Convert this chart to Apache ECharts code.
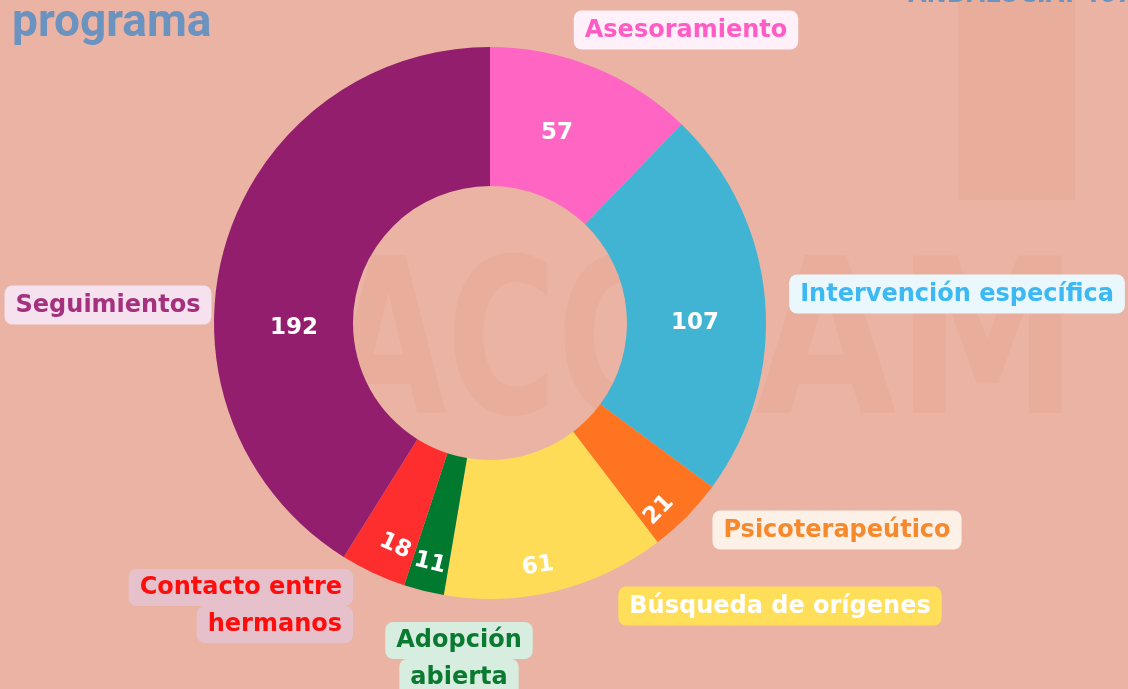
<!DOCTYPE html>
<html>
<head>
<meta charset="utf-8">
<script src="https://cdn.jsdelivr.net/npm/echarts@6/dist/echarts.min.js"></script>
<style>
  html, body { margin: 0; padding: 0; background: #eab3a3; }
  #pie-chart { width: 1128px; height: 689px; }
</style>
</head>
<body>
<div id="pie-chart"></div>
<script>
// datos por programa (Andalucía)
const categories = ['Asesoramiento', 'Intervención específica', 'Psicoterapeútico', 'Búsqueda de orígenes', 'Adopción abierta', 'Contacto entre hermanos', 'Seguimientos'];
const values = [57, 107, 21, 61, 11, 18, 192];
const labelLines = [['Asesoramiento'], ['Intervención específica'], ['Psicoterapeútico'], ['Búsqueda de orígenes'], ['Adopción', 'abierta'], ['Contacto entre', 'hermanos'], ['Seguimientos']];
const total = values.reduce((a, b) => a + b, 0);

// estilos
const sliceColors = ['#ff66c4', '#42b4d3', '#ff7420', '#ffdc58', '#017a30', '#ff2e2e', '#921e6d'];
const nameColors = ['#ff5cc6', '#3cb9f2', '#f7892d', '#ffffff', '#0b7a31', '#ff0d0d', '#a4307e'];
const nameBgs = ['#fff0fa', '#eaf7fd', '#fcf0e7', '#ffde5a', '#d6ede0', '#e6c1cb', '#f5e2ee'];
// posición de las etiquetas [x, y, align]
const namePos = [[686, 30, 'center'], [957, 294, 'center'], [837, 530, 'center'], [780, 606, 'center'], [459, 659, 'center'], [353, 606, 'right'], [108, 305, 'center']];
const valuePos = [[557, 133], [695, 323], [659, 510], [538, 566], [430, 563], [395, 546], [294, 328]];
const valueRotate = [0, 0, 'tangential', 8, 'tangential', 'tangential', 0];

const FONT = '"DejaVu Sans", sans-serif';
const CENTER = [490, 323];
const RADIUS = [137, 276];

const chart = echarts.init(document.getElementById('pie-chart'));

const sliceData = categories.map((name, i) => ({
  name: name,
  value: values[i],
  itemStyle: { color: sliceColors[i] },
  label: { rotate: valueRotate[i] },
}));

const nameData = categories.map((name, i) => {
  const twoLines = labelLines[i].length > 1;
  return {
    name: name,
    value: values[i],
    label: {
      formatter: labelLines[i].map((l) => '{t|' + l + '}').join('\n'),
      rich: {
        t: {
          color: nameColors[i],
          backgroundColor: nameBgs[i],
          borderRadius: 8,
          padding: twoLines ? [7, 11, 6, 11] : [8, 11, 7, 11],
          fontSize: 24,
          fontWeight: 'bold',
          fontFamily: FONT,
        },
      },
    },
  };
});

const option = {
  backgroundColor: '#eab3a3',
  animation: false,
  graphic: [
    // marca de agua
    {
      type: 'rect', z: -10, silent: true,
      shape: { x: 958, y: 0, width: 117, height: 200 },
      style: { fill: '#e9ad9b' },
    },
    {
      type: 'text', z: -10, silent: true, x: 330, y: 357, scaleX: 0.7,
      style: { text: 'ACC', font: 'bold 215px "DejaVu Sans"', fill: '#e9ad9b', textVerticalAlign: 'middle' },
    },
    {
      type: 'text', z: -10, silent: true, x: 755, y: 357, scaleX: 0.85,
      style: { text: 'AM', font: 'bold 215px "DejaVu Sans"', fill: '#e9ad9b', textVerticalAlign: 'middle' },
    },
    // títulos
    {
      type: 'text', x: 12, y: 24,
      style: { text: 'programa', font: 'bold 46px Roboto', fill: '#6b93c0', textVerticalAlign: 'middle' },
    },
    {
      type: 'text', x: 908, y: -4,
      style: { text: 'ANDALUCIA: ' + total, font: 'bold 24px "DejaVu Sans"', fill: '#6b93c0', textVerticalAlign: 'middle' },
    },
  ],
  series: [
    {
      type: 'pie',
      center: CENTER,
      radius: RADIUS,
      startAngle: 90,
      clockwise: true,
      avoidLabelOverlap: false,
      silent: true,
      data: sliceData,
      label: {
        show: true,
        position: 'inside',
        formatter: '{c}',
        color: '#ffffff',
        fontSize: 23,
        fontWeight: 'bold',
        fontFamily: FONT,
      },
      labelLine: { show: false },
      labelLayout: function (p) {
        const q = valuePos[p.dataIndex];
        return { x: q[0], y: q[1] };
      },
    },
    {
      type: 'pie',
      center: CENTER,
      radius: RADIUS,
      startAngle: 90,
      clockwise: true,
      avoidLabelOverlap: false,
      silent: true,
      itemStyle: { color: 'rgba(0,0,0,0)' },
      data: nameData,
      label: { show: true, position: 'outside' },
      labelLine: { show: false },
      labelLayout: function (p) {
        const q = namePos[p.dataIndex];
        return { x: q[0], y: q[1], align: q[2], verticalAlign: 'middle' };
      },
    },
  ],
};

chart.setOption(option);
</script>
</body>
</html>
